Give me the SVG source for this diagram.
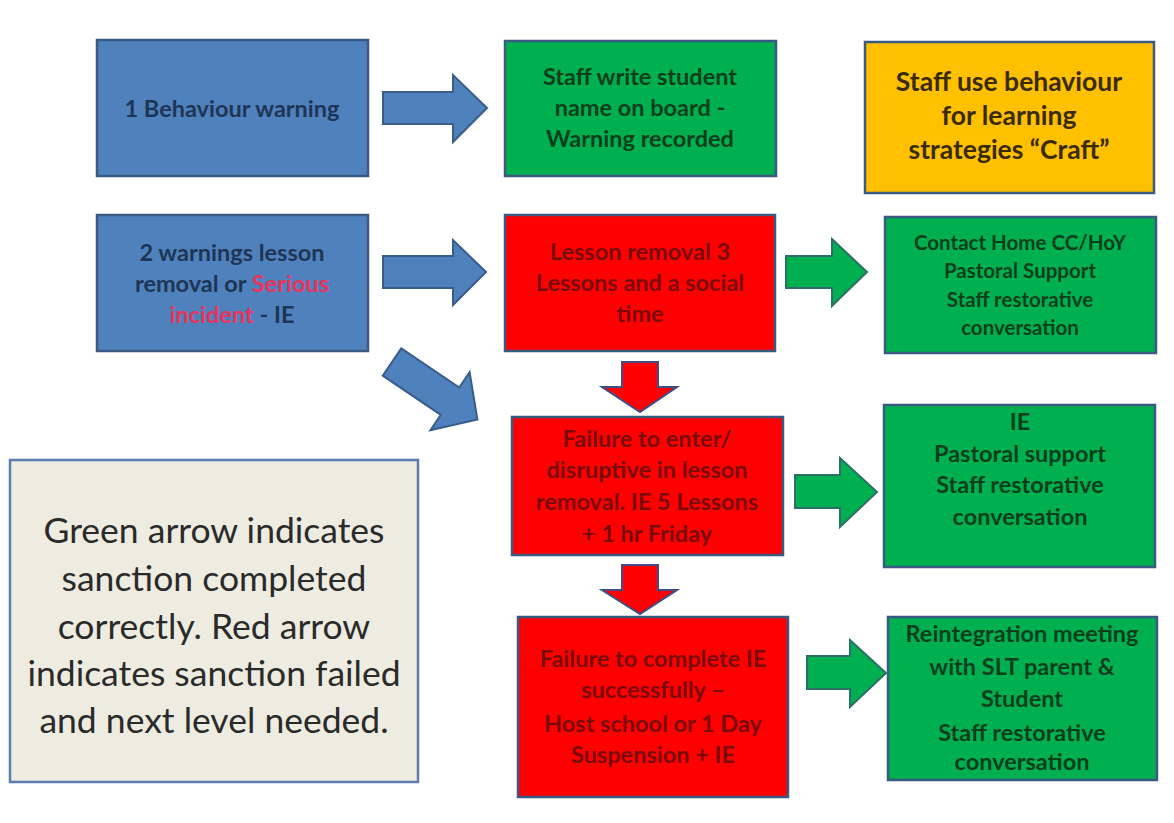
<svg xmlns="http://www.w3.org/2000/svg" width="1174" height="823" viewBox="0 0 1174 823">
<style>
.box{stroke:#3b5a82;stroke-width:2.5}
.blue{fill:#4f81bd}
.green{fill:#00b050}
.red{fill:#ff0000}
.yellow{fill:#ffc000}
.legend{fill:#eeece1;stroke:#5a7cae;stroke-width:2.5}
.t{font-family:Lato,"Open Sans","Liberation Sans",sans-serif;text-anchor:middle;font-size:23.5px;font-weight:bold}
.tb{fill:#1e3556}
.tg{fill:#0b3f1c}
.tr{fill:#7a0a0a}
.ty{fill:#3a2a00;font-size:26.5px}
.ts{font-size:20.5px}
.tl{fill:#2a2a2a;font-size:35.5px;font-weight:normal}
.pink{fill:#e8345c}
.ab{fill:#4f81bd;stroke:#385d8a;stroke-width:2}
.ag{fill:#00b050;stroke:#2b6f68;stroke-width:2}
.ar{fill:#ff0000;stroke:#3f4f85;stroke-width:2}
</style>

<g id="n1">
<rect class="box blue" x="97" y="40" width="271" height="136"/>
<text class="t tb" x="232" y="117">1 Behaviour warning</text>
</g>

<g id="n2">
<rect class="box green" x="505" y="41" width="271" height="135"/>
<text class="t tg" x="640" y="85">Staff write student</text>
<text class="t tg" x="640" y="116">name on board  -</text>
<text class="t tg" x="640" y="147">Warning recorded</text>
</g>

<g id="n3">
<rect class="box yellow" x="865" y="42" width="289" height="151"/>
<text class="t ty" x="1009" y="91">Staff use behaviour</text>
<text class="t ty" x="1009" y="125">for learning</text>
<text class="t ty" x="1009" y="159">strategies “Craft”</text>
</g>

<g id="n4">
<rect class="box blue" x="97" y="215" width="271" height="136"/>
<text class="t tb" x="232" y="261">2 warnings lesson</text>
<text class="t tb" x="232" y="292">removal or <tspan class="pink">Serious</tspan></text>
<text class="t tb" x="232" y="323"><tspan class="pink">incident</tspan> - IE</text>
</g>

<g id="n5">
<rect class="box red" x="505" y="215" width="270" height="136"/>
<text class="t tr" x="640" y="260">Lesson removal 3</text>
<text class="t tr" x="640" y="291">Lessons and a social</text>
<text class="t tr" x="640" y="322">time</text>
</g>

<g id="n6">
<rect class="box green" x="885" y="217" width="271" height="136"/>
<text class="t tg ts" x="1020" y="250">Contact Home CC/HoY</text>
<text class="t tg ts" x="1020" y="278">Pastoral Support</text>
<text class="t tg ts" x="1020" y="307">Staff restorative</text>
<text class="t tg ts" x="1020" y="335">conversation</text>
</g>

<g id="n7">
<rect class="box red" x="512" y="417" width="271" height="138"/>
<text class="t tr" x="647" y="447">Failure to enter/</text>
<text class="t tr" x="647" y="478">disruptive in lesson</text>
<text class="t tr" x="647" y="510">removal. IE 5 Lessons</text>
<text class="t tr" x="647" y="542">+ 1 hr Friday</text>
</g>

<g id="n8">
<rect class="box green" x="884" y="405" width="271" height="162"/>
<text class="t tg" x="1020" y="430">IE</text>
<text class="t tg" x="1020" y="462">Pastoral support</text>
<text class="t tg" x="1020" y="493">Staff restorative</text>
<text class="t tg" x="1020" y="525">conversation</text>
</g>

<g id="n9">
<rect class="box red" x="518" y="617" width="270" height="180"/>
<text class="t tr" x="653" y="667">Failure to complete IE</text>
<text class="t tr" x="653" y="698">successfully –</text>
<text class="t tr" x="653" y="732">Host school or 1 Day</text>
<text class="t tr" x="653" y="763">Suspension + IE</text>
</g>

<g id="n10">
<rect class="box green" x="888" y="617" width="269" height="163"/>
<text class="t tg" x="1022" y="642">Reintegration meeting</text>
<text class="t tg" x="1022" y="675">with SLT parent &amp;</text>
<text class="t tg" x="1022" y="707">Student</text>
<text class="t tg" x="1022" y="741">Staff restorative</text>
<text class="t tg" x="1022" y="770">conversation</text>
</g>

<g id="legend">
<rect class="legend" x="10" y="460" width="408" height="322"/>
<text class="t tl" x="214" y="543">Green arrow indicates</text>
<text class="t tl" x="214" y="591">sanction completed</text>
<text class="t tl" x="214" y="639">correctly. Red arrow</text>
<text class="t tl" x="214" y="686">indicates sanction failed</text>
<text class="t tl" x="214" y="733">and next level needed.</text>
</g>

<g id="connectors">
<polygon class="ab" points="383,92 453,92 453,75 487,108 453,142 453,124 383,124"/>
<polygon class="ab" points="383,256 453,256 453,240 486,272 453,305 453,288 383,288"/>
<polygon class="ab" transform="translate(392,362) rotate(34)" points="0,-16.5 70,-16.5 70,-35 103,0 70,35 70,16.5 0,16.5"/>
<polygon class="ag" points="786,256 832,256 832,239 867,272 832,306 832,288 786,288"/>
<polygon class="ag" points="795,475 840,475 840,458 877,492 840,527 840,508 795,508"/>
<polygon class="ag" points="807,656 850,656 850,640 886,673 850,707 850,689 807,689"/>
<polygon class="ar" points="622,362 658,362 658,387 677,387 640,412 602,387 622,387"/>
<polygon class="ar" points="622,565 658,565 658,590 677,590 640,614 602,590 622,590"/>
</g>
</svg>
